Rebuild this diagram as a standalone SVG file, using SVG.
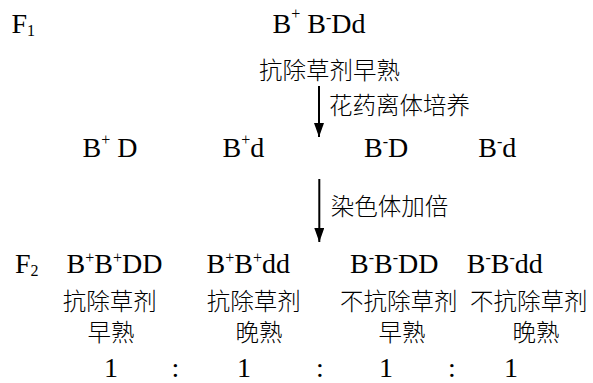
<svg xmlns="http://www.w3.org/2000/svg" width="593" height="383" viewBox="0 0 593 383">
<style>
.lt{font-family:"Liberation Serif","Times New Roman",serif;font-size:28px;fill:#000}
.cn{font-family:"Noto Sans CJK SC","Noto Sans CJK TC",sans-serif;font-size:23.5px;font-weight:300;fill:#000}
.sp{font-size:16px}
.ln{stroke:#000;stroke-width:2;fill:none}
</style>
<defs>
<marker id="ah" viewBox="0 0 14 10" refX="14" refY="5" markerWidth="14" markerHeight="10" markerUnits="userSpaceOnUse" orient="auto">
<path d="M0,0 L14,5 L0,10 z" fill="#000"/>
</marker>
</defs>
<rect width="593" height="383" fill="#fff"/>
<g id="labels">
<text class="lt" x="11.5" y="33">F<tspan class="sp" dy="3">1</tspan></text>
<text class="lt" x="15" y="273">F<tspan class="sp" dy="3">2</tspan></text>
</g>
<g id="f1">
<text class="lt" x="272.5" y="33">B<tspan class="sp" dy="-14">+</tspan><tspan dy="14"> B</tspan><tspan class="sp" dy="-10">-</tspan><tspan dy="10">Dd</tspan></text>
<text class="cn" x="329.5" y="78.5" text-anchor="middle">抗除草剂早熟</text>
</g>
<g id="gametes">
<g id="g1"><text class="lt" x="82.5" y="157">B<tspan class="sp" dy="-12">+</tspan><tspan dy="12"> D</tspan></text></g>
<g id="g2"><text class="lt" x="222.5" y="157">B<tspan class="sp" dy="-12">+</tspan><tspan dy="12">d</tspan></text></g>
<g id="g3"><text class="lt" x="364" y="157">B<tspan class="sp" dy="-10">-</tspan><tspan dy="10">D</tspan></text></g>
<g id="g4"><text class="lt" x="478.3" y="157">B<tspan class="sp" dy="-10">-</tspan><tspan dy="10">d</tspan></text></g>
</g>
<g id="f2">
<g id="p1">
<text class="lt" x="66.5" y="273">B<tspan class="sp" dy="-10">+</tspan><tspan dy="10">B</tspan><tspan class="sp" dy="-10">+</tspan><tspan dy="10">DD</tspan></text>
<text class="cn" x="62.7" y="309.5">抗除草剂</text>
<text class="cn" x="111" y="341" text-anchor="middle">早熟</text>
</g>
<g id="p2">
<text class="lt" x="206.5" y="273">B<tspan class="sp" dy="-10">+</tspan><tspan dy="10">B</tspan><tspan class="sp" dy="-10">+</tspan><tspan dy="10">dd</tspan></text>
<text class="cn" x="206.7" y="309.5">抗除草剂</text>
<text class="cn" x="259" y="341" text-anchor="middle">晚熟</text>
</g>
<g id="p3">
<text class="lt" x="350" y="273">B<tspan class="sp" dy="-10">-</tspan><tspan dy="10">B</tspan><tspan class="sp" dy="-10">-</tspan><tspan dy="10">DD</tspan></text>
<text class="cn" x="340" y="309.5">不抗除草剂</text>
<text class="cn" x="402" y="341" text-anchor="middle">早熟</text>
</g>
<g id="p4">
<text class="lt" x="466.7" y="273">B<tspan class="sp" dy="-10">-</tspan><tspan dy="10">B</tspan><tspan class="sp" dy="-10">-</tspan><tspan dy="10">dd</tspan></text>
<text class="cn" x="470" y="309.5">不抗除草剂</text>
<text class="cn" x="536" y="341" text-anchor="middle">晚熟</text>
</g>
</g>
<g id="ratio">
<text class="lt" x="111" y="377" text-anchor="middle">1</text>
<text class="lt" x="175.5" y="377" text-anchor="middle">:</text>
<text class="lt" x="244" y="377" text-anchor="middle">1</text>
<text class="lt" x="320" y="377" text-anchor="middle">:</text>
<text class="lt" x="386" y="377" text-anchor="middle">1</text>
<text class="lt" x="452" y="377" text-anchor="middle">:</text>
<text class="lt" x="511" y="377" text-anchor="middle">1</text>
</g>
<g id="connectors">
<line class="ln" x1="319" y1="86" x2="319" y2="137" marker-end="url(#ah)"/>
<text class="cn" x="329" y="113.5">花药离体培养</text>
<line class="ln" x1="319.3" y1="179" x2="319.3" y2="242" marker-end="url(#ah)"/>
<text class="cn" x="330.7" y="215">染色体加倍</text>
</g>
</svg>
